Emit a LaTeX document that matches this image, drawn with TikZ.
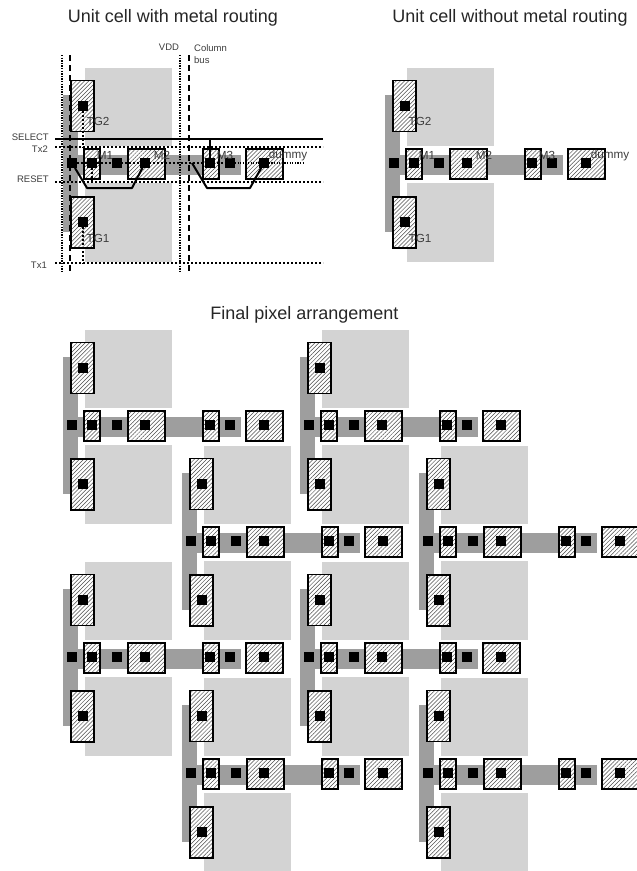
\documentclass[tikz,border=0pt]{standalone}
\usepackage{xcolor}
\usepackage{fontspec}
\setmainfont{Liberation Sans}
\usetikzlibrary{patterns.meta, positioning}
\definecolor{pdgray}{RGB}{211,211,211}
\definecolor{diffgray}{RGB}{158,158,158}
\definecolor{labelgray}{RGB}{60,60,60}
\tikzstyle{pd} = [fill=pdgray, draw=none]
\tikzstyle{diff} = [fill=diffgray, draw=none]
\tikzstyle{gatebox} = [rectangle, draw=black, line width=1.2pt, inner sep=0pt, preaction={fill=white}, pattern={Lines[angle=45, distance=2.9pt, line width=0.5pt]}, pattern color=black!70]
\tikzstyle{contact} = [rectangle, fill=black, inner sep=0pt, minimum size=9.5pt]
\tikzstyle{title} = [font=\fontsize{18}{20}\selectfont, text=black!85, inner sep=0pt]
\tikzstyle{devlabel} = [font=\fontsize{11.7}{13}\selectfont, text=labelgray, inner sep=0pt]
\tikzstyle{buslabel} = [font=\fontsize{9.5}{12}\selectfont, text=labelgray, inner sep=0pt]
\tikzstyle{busdot} = [line width=2pt, dash pattern=on 2pt off 2pt]
\tikzstyle{busfine} = [line width=2pt, dash pattern=on 1.3pt off 1.3pt]
\tikzstyle{busdash} = [line width=2.2pt, dash pattern=on 6pt off 4pt]
\tikzstyle{metal} = [line width=2pt, line join=round]
\tikzset{
  pixelcell/.pic={
    % Photodiodes and diffusion
    \fill[pd] (85,68) rectangle (172,146);
    \fill[pd] (85,183) rectangle (172,262);
    \fill[diff] (62.5,95) rectangle (77.5,232);
    \fill[diff] (77,154.5) rectangle (241,175);
    % Gates
    \node[gatebox, minimum width=23pt, minimum height=51pt] (-tg2) at (82.5,106) {};
    \node[gatebox, minimum width=23pt, minimum height=51pt] (-tg1) at (82.5,222.5) {};
    \node[gatebox, minimum width=16pt, minimum height=30pt] (-m1) at (92,164) {};
    \node[gatebox, minimum width=37pt, minimum height=30pt] (-m2) at (146.5,164) {};
    \node[gatebox, minimum width=16pt, minimum height=30pt] (-m3) at (211,164) {};
    \node[gatebox, minimum width=37pt, minimum height=30pt] (-dm) at (264.5,164) {};
    % Contacts
    \node[contact] (-ctg2) at (83,106) {};
    \node[contact] (-ctg1) at (83,222) {};
    \node[contact] (-cfd) at (72,163) {};
    \node[contact] (-cm1) at (92,163) {};
    \node[contact] (-cs) at (117,163) {};
    \node[contact] (-cm2) at (145,163) {};
    \node[contact] (-cm3) at (210,163) {};
    \node[contact] (-cd) at (230,163) {};
    \node[contact] (-cdm) at (264,163) {};
  },
  celllabels/.pic={
    \node[devlabel] (-ltg2) at (98,121) {TG2};
    \node[devlabel] (-ltg1) at (98,238) {TG1};
    \node[devlabel] (-lm1) at (105,155) {M1};
    \node[devlabel] (-lm2) at (162,155) {M2};
    \node[devlabel] (-lm3) at (225,155) {M3};
    \node[devlabel] (-ldm) at (288,155) {dummy};
  }
}

\begin{document}
\begin{tikzpicture}[x=1pt, y=-1pt]
    \clip (0,0) rectangle (637,871);
    % Titles
    \node[title] (ttwith) at (173,18) {Unit cell with metal routing};
    \node[title] (ttwithout) at (510,18) {Unit cell without metal routing};
    \node[title] (ttfinal) at (304.5,315) {Final pixel arrangement};

    % Unit cells
    \pic (wm) at (0,0) {pixelcell};
    \pic (wo) at (322,0) {pixelcell};
    \pic at (0,0) {celllabels};
    \pic at (322,0) {celllabels};

    % Metal routing
    \coordinate (sel) at (wm-cm3 |- 0,139);
    \coordinate (txa) at (wm-ctg2 |- 0,147);
    \coordinate (txb) at (wm-ctg1 |- 0,263);
    \coordinate (rst) at (wm-cm1 |- 0,182);
    \draw[busfine] (62,55) -- (62,272);
    \draw[busdash] (70,55) -- (70,272);
    \draw[busfine] (180,55) -- (180,272);
    \draw[busdash] (189,55) -- (189,272);
    \draw[line width=2.2pt] (55,139) -- (323,139);
    \draw[busdot] (55,147) -- (323,147);
    \draw[busdot] (55,182) -- (323,182);
    \draw[busdot] (55,263) -- (323,263);
    \draw[busdot] (wm-ctg2) -- (txa);
    \draw[busdot] (wm-ctg1) -- (txb);
    \draw[busdot] (wm-cm1) -- (rst);
    \draw[busdot] (wm-cfd) -- (wm-cd);
    \draw[busfine] (wm-cd) -- (305,163);
    \draw[metal] (wm-cfd) -- (87,188) -- (132,188) -- (wm-cm2);
    \draw[metal] (192,163) -- (207,188) -- (250,188) -- (wm-cdm);
    \draw[metal] (sel) -- (wm-cm3);

    % Bus labels
    \node[buslabel, anchor=east] (lsel) at (49,137) {SELECT};
    \node[buslabel, anchor=east] (ltxb) at (48,149) {Tx2};
    \node[buslabel, anchor=east] (lrst) at (49,179) {RESET};
    \node[buslabel, anchor=east] (ltxa) at (47,265) {Tx1};
    \node[buslabel] (lvdd) at (169,47) {VDD};
    \node[buslabel, anchor=west, align=left] (lcol) at (194,54) {Column\\bus};

    % Final pixel arrangement
    \foreach \cx/\cy/\cn in {0/262/a, 237/262/b, 119/378/c, 356/378/d, 0/494/e, 237/494/f, 119/610/g, 356/610/h}
        \pic (\cn) at (\cx,\cy) {pixelcell};
\end{tikzpicture}
\end{document}
